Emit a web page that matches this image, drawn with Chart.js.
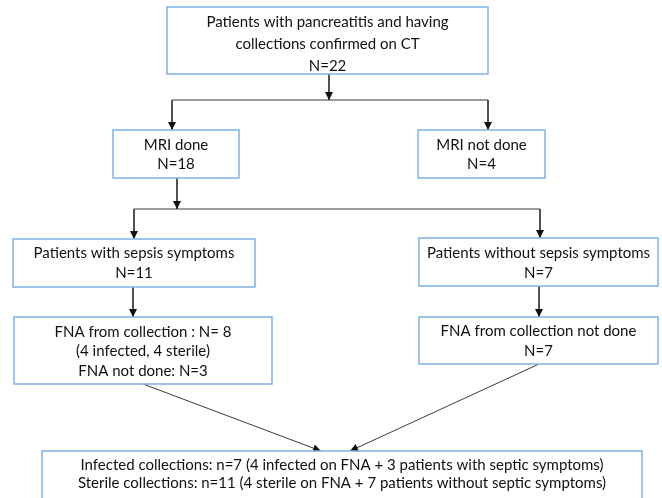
<!DOCTYPE html>
<html>
<head>
<meta charset="utf-8">
<script src="https://cdn.jsdelivr.net/npm/chart.js@4"></script>
<style>
  html, body { margin: 0; padding: 0; background: #fff; }
  #wrap { width: 662px; height: 498px; }
</style>
</head>
<body>
<div id="wrap"><canvas id="flow" width="662" height="498"></canvas></div>
<script>
// node texts and counts
const nodeText = [
  ["Patients with pancreatitis and having", "collections confirmed on CT"],
  ["MRI done"],
  ["MRI not done"],
  ["Patients with sepsis symptoms"],
  ["Patients without sepsis symptoms"],
  ["FNA from collection : N= 8", "(4 infected, 4 sterile)", "FNA not done: N=3"],
  ["FNA from collection not done"],
  ["Infected collections: n=7 (4 infected on FNA + 3 patients with septic symptoms)",
   "Sterile collections: n=11 (4 sterile on FNA + 7 patients without septic symptoms)"]
];
const nodeCounts = [22, 18, 4, 11, 7, null, 7, null];

// layout (page units, y down)
const boxes = [
  { x0: 167, x1: 488, y0: 7,   y1: 74,  ty: 22,  lh: 22 },
  { x0: 113, x1: 239, y0: 130, y1: 178, ty: 145, lh: 19 },
  { x0: 418, x1: 545, y0: 130, y1: 178, ty: 145, lh: 19 },
  { x0: 13,  x1: 255, y0: 239, y1: 287, ty: 253, lh: 20 },
  { x0: 419, x1: 658, y0: 238, y1: 286, ty: 253, lh: 20 },
  { x0: 14,  x1: 272, y0: 317, y1: 384, ty: 332, lh: 19.5 },
  { x0: 419, x1: 658, y0: 317, y1: 364, ty: 331, lh: 20 },
  { x0: 42,  x1: 642, y0: 451, y1: 510, ty: 465, lh: 18 }
];

// connectors: polylines, last point gets an arrowhead if arrow true
const links = [
  { pts: [[329, 74], [329, 100]], arrow: true },
  { pts: [[172, 100], [488, 100]], arrow: false },
  { pts: [[172, 100], [172, 130]], arrow: true },
  { pts: [[488, 100], [488, 130]], arrow: true },
  { pts: [[177, 178], [177, 209]], arrow: true },
  { pts: [[134, 209], [540, 209]], arrow: false },
  { pts: [[134, 209], [134, 239]], arrow: true },
  { pts: [[540, 209], [540, 238]], arrow: true },
  { pts: [[133, 287], [133, 317]], arrow: true },
  { pts: [[539, 286], [539, 317]], arrow: true },
  { pts: [[143, 384], [321, 451]], arrow: true },
  { pts: [[539, 364], [350, 451]], arrow: true }
];

const lineColor = "#3a3a3a";
const boxColor = "#7fb2e5";
const fontFam = "Lato, 'Open Sans', sans-serif";

const linkSets = links.map(l => ({
  type: "scatter",
  data: l.pts.map(p => ({ x: p[0], y: p[1] })),
  showLine: true,
  borderColor: lineColor,
  borderWidth: 1,
  pointRadius: 0,
  fill: false
}));

const flowPlugin = {
  id: "flow",
  afterDatasetsDraw(chart) {
    const ctx = chart.ctx;
    const xs = chart.scales.x, ys = chart.scales.y;
    const px = v => xs.getPixelForValue(v);
    const py = v => ys.getPixelForValue(v);
    ctx.save();
    // arrowheads
    ctx.fillStyle = "#111";
    links.forEach(l => {
      if (!l.arrow) return;
      const a = l.pts[l.pts.length - 2], b = l.pts[l.pts.length - 1];
      const ang = Math.atan2(py(b[1]) - py(a[1]), px(b[0]) - px(a[0]));
      const tx = px(b[0]), ty = py(b[1]);
      ctx.beginPath();
      ctx.moveTo(tx, ty);
      ctx.lineTo(tx - 8 * Math.cos(ang) + 4 * Math.sin(ang), ty - 8 * Math.sin(ang) - 4 * Math.cos(ang));
      ctx.lineTo(tx - 8 * Math.cos(ang) - 4 * Math.sin(ang), ty - 8 * Math.sin(ang) + 4 * Math.cos(ang));
      ctx.closePath();
      ctx.fill();
    });
    // boxes + text
    ctx.font = "15px " + fontFam;
    ctx.textAlign = "center";
    ctx.textBaseline = "middle";
    boxes.forEach((b, i) => {
      const x0 = px(b.x0), x1 = px(b.x1), y0 = py(b.y0), y1 = py(b.y1);
      ctx.fillStyle = "#fff";
      ctx.fillRect(x0, y0, x1 - x0, y1 - y0);
      ctx.strokeStyle = boxColor;
      ctx.lineWidth = 1.5;
      ctx.strokeRect(x0, y0, x1 - x0, y1 - y0);
      const lines = nodeText[i].slice();
      if (nodeCounts[i] !== null) lines.push("N=" + nodeCounts[i]);
      ctx.fillStyle = "#111";
      const cx = (x0 + x1) / 2;
      lines.forEach((t, k) => ctx.fillText(t, cx, py(b.ty + k * b.lh)));
    });
    ctx.restore();
  }
};

new Chart(document.getElementById("flow").getContext("2d"), {
  type: "scatter",
  data: { datasets: linkSets },
  options: {
    responsive: false,
    animation: false,
    devicePixelRatio: 1,
    layout: { padding: 0 },
    plugins: { legend: { display: false }, tooltip: { enabled: false } },
    scales: {
      x: { type: "linear", min: 0, max: 662, display: false },
      y: { type: "linear", min: 0, max: 498, reverse: true, display: false }
    }
  },
  plugins: [flowPlugin]
});
</script>
</body>
</html>
